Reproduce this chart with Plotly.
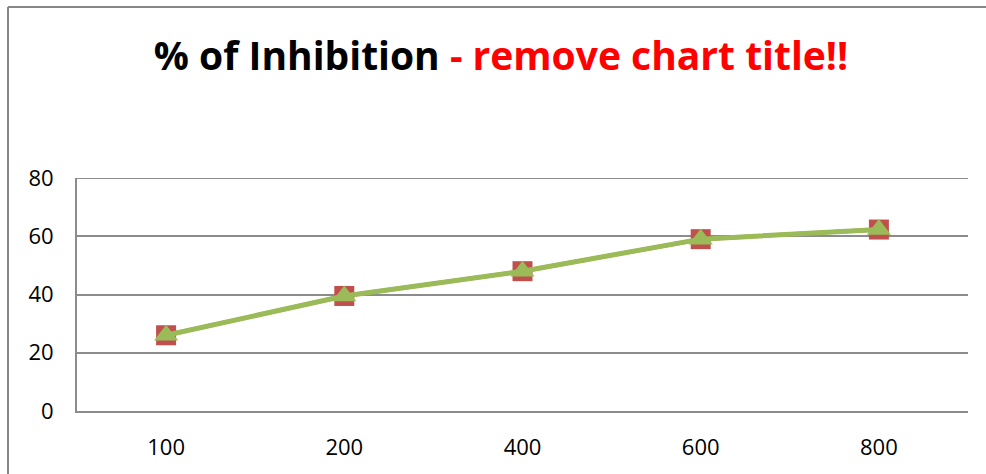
import plotly.graph_objects as go

categories = ["100", "200", "400", "600", "800"]
series_red = [26, 39.5, 48, 59, 62.3]
series_green = [26, 39.5, 48, 59, 62.3]
y_ticks = [0, 20, 40, 60, 80]

W, H = 986, 474
L, R, T, B = 77, 18, 178, 63
pw, ph = W - L - R, H - T - B

FONT = "Open Sans"
GRID = "#8c8c8c"

fig = go.Figure()
fig.add_trace(go.Scatter(
    x=categories, y=series_red, mode="lines+markers",
    line=dict(color="#C0504D", width=4),
    marker=dict(symbol="square", size=20, color="#C0504D"),
    showlegend=False, cliponaxis=False,
))
fig.add_trace(go.Scatter(
    x=categories, y=series_green, mode="lines+markers",
    line=dict(color="#9BBB59", width=5),
    marker=dict(symbol="triangle-up", size=21, color="#9BBB59"),
    showlegend=False, cliponaxis=False,
))

def px_x(px):
    return (px - L) / pw

def px_y(py):
    return (H - B - py) / ph

fig.update_layout(
    width=W, height=H,
    margin=dict(l=L, r=R, t=T, b=B),
    paper_bgcolor="white", plot_bgcolor="white",
    title=dict(
        text="<b>% of Inhibition <span style='color:#FF0000'>- remove chart title!!</span></b>",
        x=501 / W, xanchor="center", xref="container",
        y=1 - 56 / H, yanchor="middle", yref="container",
        font=dict(family=FONT, size=39, color="black"),
    ),
    font=dict(family=FONT, size=22, color="black"),
    xaxis=dict(
        type="category", range=[-0.5, len(categories) - 0.5],
        showgrid=False, showline=True, linecolor=GRID, linewidth=2,
        ticks="", ticklabelstandoff=16, tickfont=dict(family=FONT, size=22),
        fixedrange=True,
    ),
    yaxis=dict(
        range=[0, 80], tickvals=y_ticks, showgrid=True, gridcolor=GRID, gridwidth=2,
        showline=True, linecolor=GRID, linewidth=2, zeroline=False,
        ticks="", ticklabelstandoff=17, tickfont=dict(family=FONT, size=22),
        fixedrange=True,
    ),
    shapes=[
        dict(type="line", xref="paper", yref="y",
             x0=0, x1=1, y0=y_ticks[-1], y1=y_ticks[-1],
             line=dict(color=GRID, width=2), layer="below"),
        dict(type="line", xref="paper", yref="paper",
             x0=px_x(8), x1=px_x(8), y0=px_y(480), y1=px_y(7),
             line=dict(color="#868686", width=2)),
        dict(type="line", xref="paper", yref="paper",
             x0=px_x(8), x1=px_x(990), y0=px_y(7), y1=px_y(7),
             line=dict(color="#868686", width=2)),
    ],
)

fig.write_html("out.html")
